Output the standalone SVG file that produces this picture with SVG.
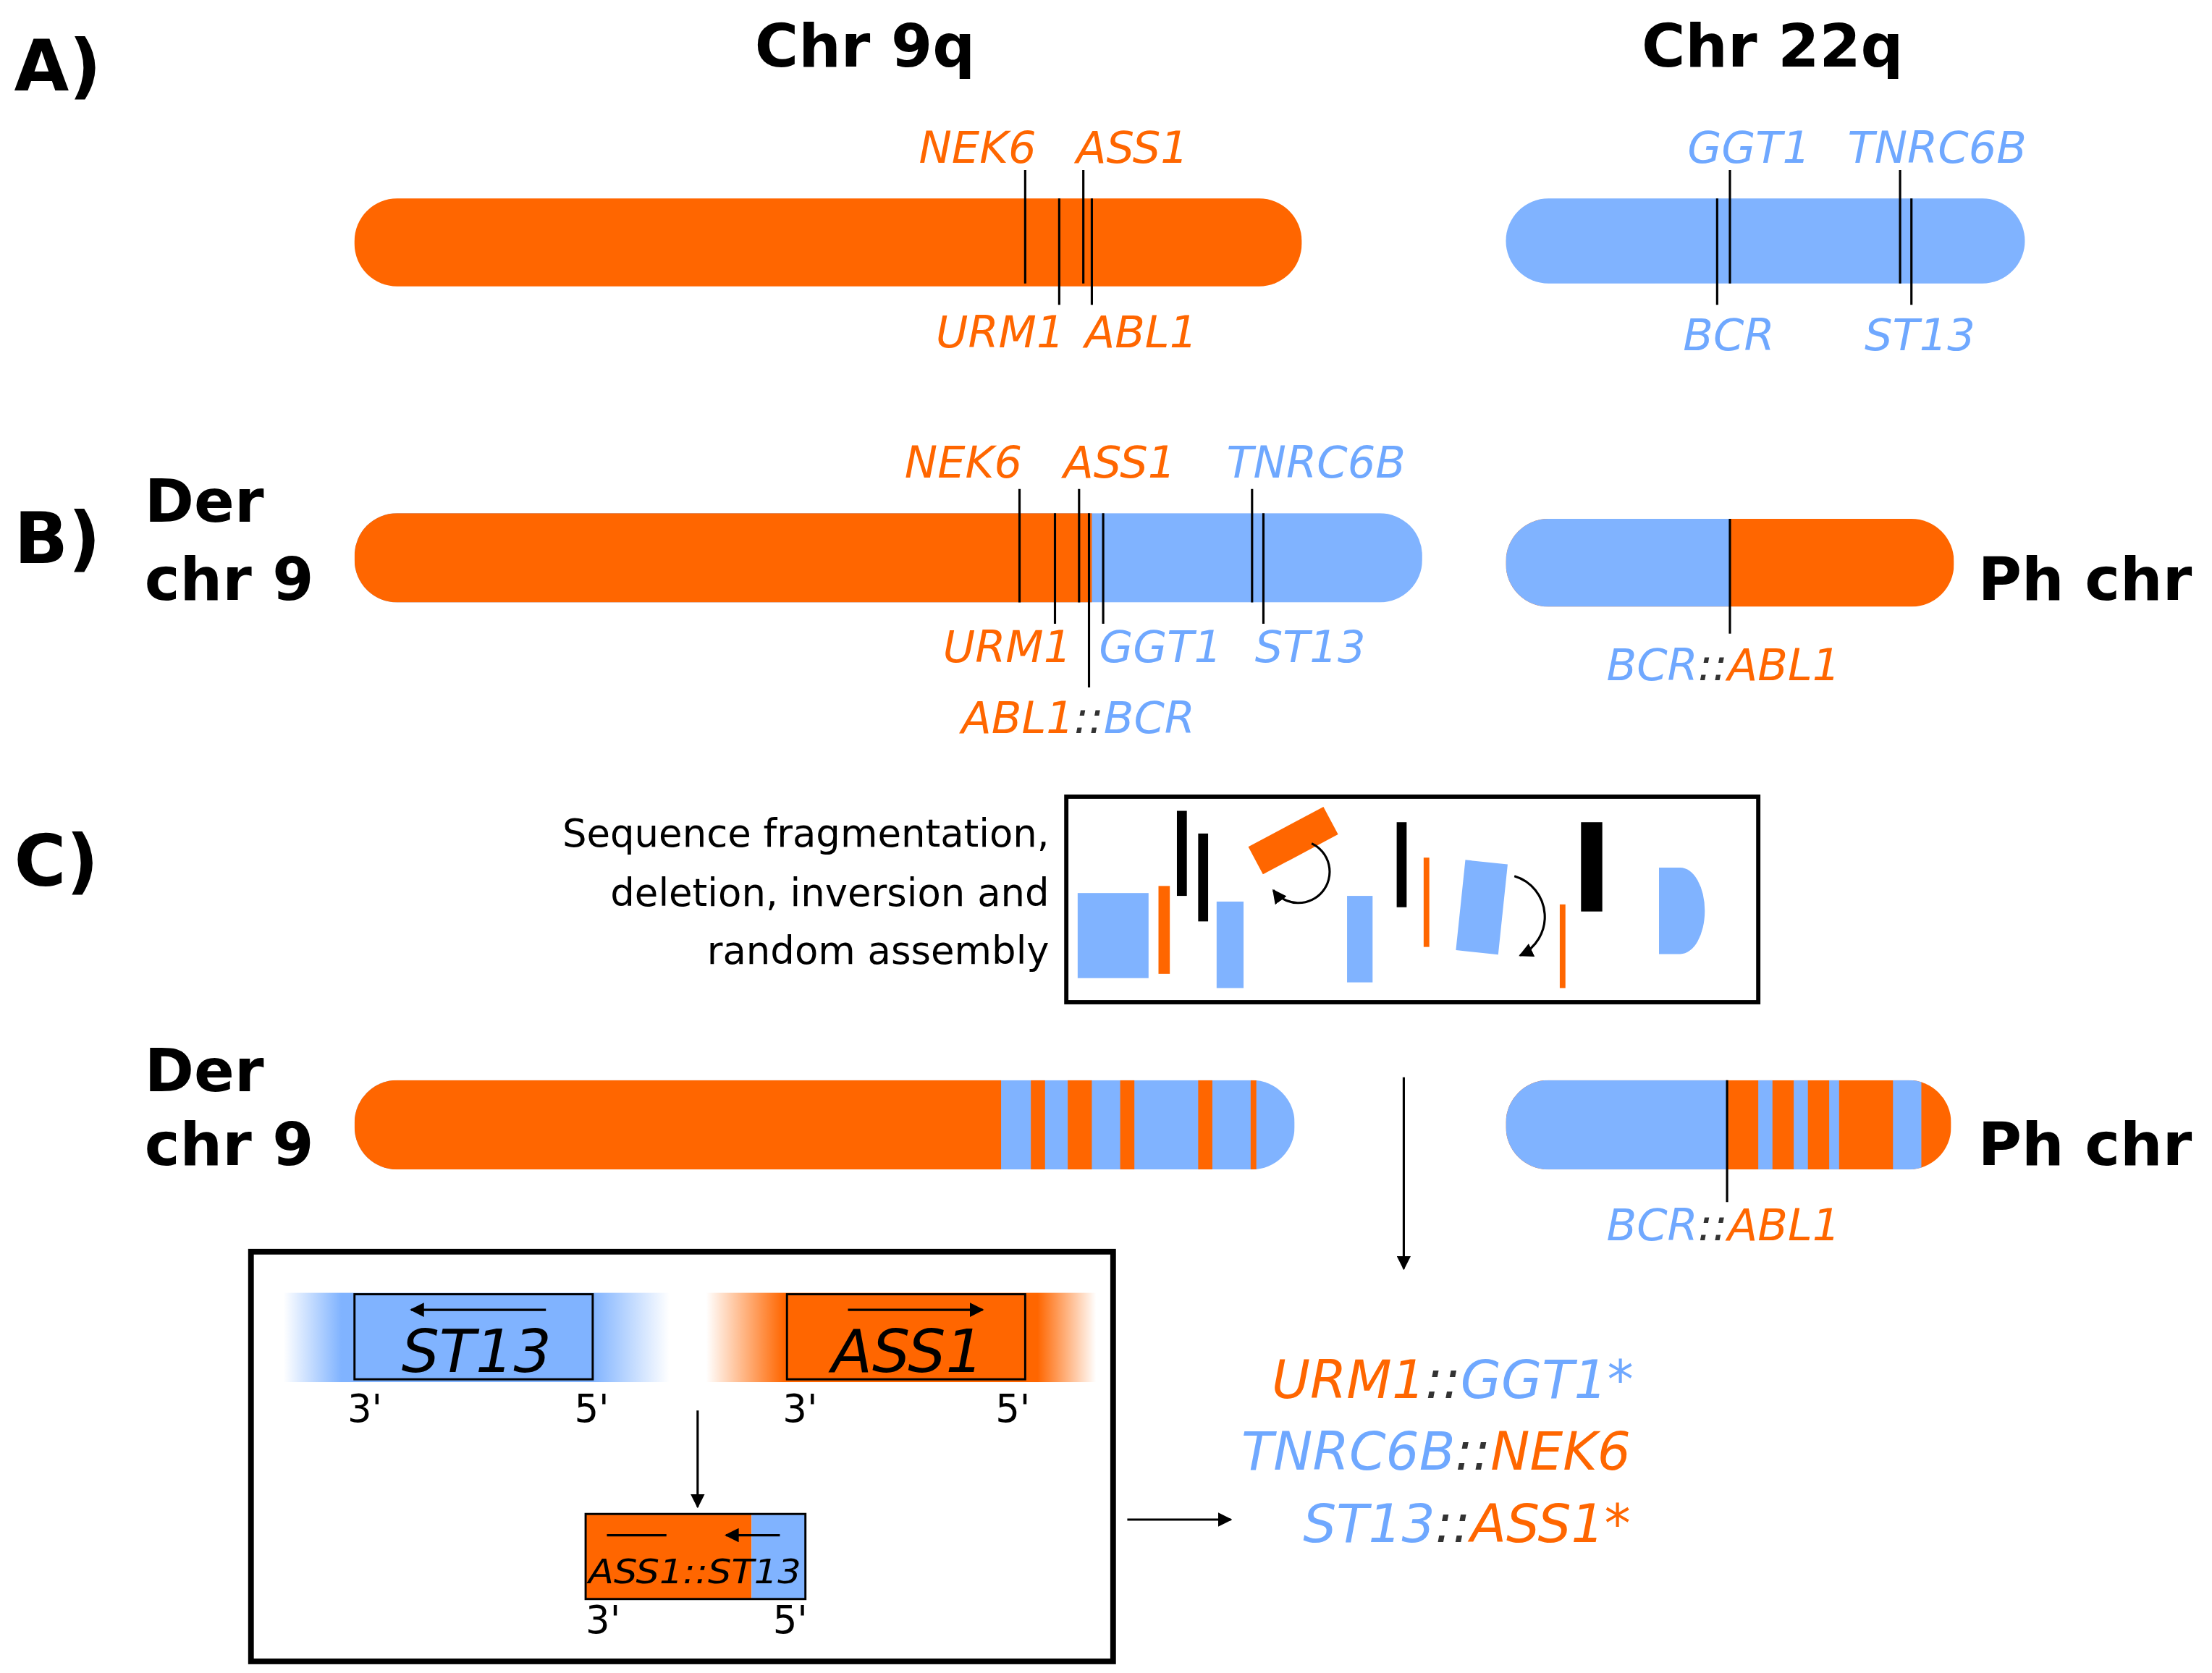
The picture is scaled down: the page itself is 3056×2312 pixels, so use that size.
<svg xmlns="http://www.w3.org/2000/svg" width="3056" height="2312" viewBox="0 0 3056 2312">
<defs>
<style>
.o{fill:#FF6600}.b{fill:#80B3FF}.k{fill:#000}
.lo{fill:#FF6600}.lb{fill:#6FA8FF}
.gl{font-family:"DejaVu Sans",sans-serif;font-style:italic;font-size:31px}
.hd{font-family:"DejaVu Sans",sans-serif;font-weight:bold;font-size:42px;fill:#000}
.pl{font-family:"DejaVu Sans",sans-serif;font-weight:bold;font-size:50px;fill:#000}
.ln{stroke:#000;stroke-width:1.6;fill:none}
.sm{font-family:"DejaVu Sans",sans-serif;font-size:27px;fill:#000}
</style>
<linearGradient id="gb" x1="0" x2="1" y1="0" y2="0">
<stop offset="0" stop-color="#80B3FF" stop-opacity="0"/><stop offset="0.15" stop-color="#80B3FF"/><stop offset="0.8" stop-color="#80B3FF"/><stop offset="1" stop-color="#80B3FF" stop-opacity="0"/></linearGradient>
<linearGradient id="go" x1="0" x2="1" y1="0" y2="0">
<stop offset="0" stop-color="#FF6600" stop-opacity="0"/><stop offset="0.2" stop-color="#FF6600"/><stop offset="0.85" stop-color="#FF6600"/><stop offset="1" stop-color="#FF6600" stop-opacity="0"/></linearGradient>
<marker id="ah" markerWidth="10" markerHeight="10" refX="9" refY="5" orient="auto" markerUnits="userSpaceOnUse" viewBox="0 0 10 10"><path d="M0,0L10,5L0,10z" fill="#000"/></marker>
<clipPath id="cA"><rect x="250" y="140" width="668" height="62" rx="30"/></clipPath>
<clipPath id="cB"><rect x="250" y="362" width="753" height="63" rx="30"/></clipPath>
<clipPath id="cP"><rect x="1062" y="366" width="316" height="62" rx="30"/></clipPath>
<clipPath id="cC"><rect x="250" y="762" width="663" height="63" rx="30"/></clipPath>
<clipPath id="cPC"><rect x="1062" y="762" width="314" height="63" rx="30"/></clipPath>
</defs>
<rect width="3056" height="2312" fill="#fff"/>
<g transform="scale(1.959)">
<text class="pl" x="10" y="64">A)</text>
<text class="hd" x="610" y="47" text-anchor="middle">Chr 9q</text>
<text class="hd" x="1250" y="47" text-anchor="middle">Chr 22q</text>
<g id="chr9q">
<rect class="o" x="250" y="140" width="668" height="62" rx="30"/>
<path class="ln" d="M723,120V200M747,140V215M764,120V200M770,140V215"/>
<text class="gl lo" x="648" y="115">NEK6</text><text class="gl lo" x="759" y="115">ASS1</text>
<text class="gl lo" x="660" y="245">URM1</text><text class="gl lo" x="765" y="245">ABL1</text>
</g>
<g id="chr22q">
<rect class="b" x="1062" y="140" width="366" height="60" rx="30"/>
<path class="ln" d="M1220,120V200M1211,140V215M1340,120V200M1348,140V215"/>
<text class="gl lb" x="1190" y="115">GGT1</text><text class="gl lb" x="1303" y="115">TNRC6B</text>
<text class="gl lb" x="1187" y="247">BCR</text><text class="gl lb" x="1315" y="247">ST13</text>
</g>
<text class="pl" x="10" y="397">B)</text>
<text class="hd" x="102" y="368">Der</text><text class="hd" x="102" y="423">chr 9</text>
<g id="derB">
<g clip-path="url(#cB)"><rect class="b" x="250" y="362" width="753" height="63"/><rect class="o" x="250" y="362" width="520" height="63"/></g>
<path class="ln" d="M719,345V425M744,362V440M761,345V425M768,362V485M778,362V440M883,345V425M891,362V440"/>
<text class="gl lo" x="638" y="337">NEK6</text><text class="gl lo" x="750" y="337">ASS1</text><text class="gl lb" x="865" y="337">TNRC6B</text>
<text class="gl lo" x="665" y="467">URM1</text><text class="gl lb" x="775" y="467">GGT1</text><text class="gl lb" x="885" y="467">ST13</text>
<text class="gl" x="678" y="517"><tspan class="lo">ABL1</tspan><tspan fill="#333">::</tspan><tspan class="lb">BCR</tspan></text>
</g>
<g id="phB">
<g clip-path="url(#cP)"><rect class="o" x="1062" y="366" width="316" height="62"/><rect class="b" x="1062" y="366" width="158" height="62"/></g>
<path class="ln" d="M1220,366V447"/>
<text class="gl" x="1133" y="480"><tspan class="lb">BCR</tspan><tspan fill="#333">::</tspan><tspan class="lo">ABL1</tspan></text>
<text class="hd" x="1395" y="423">Ph chr</text>
</g>
<text class="pl" x="10" y="625">C)</text>
<g id="frag">
<rect x="752" y="562" width="488" height="145" fill="none" stroke="#000" stroke-width="3"/>
<text class="sm" text-anchor="end" x="740" y="597">Sequence fragmentation,</text>
<text class="sm" text-anchor="end" x="740" y="639">deletion, inversion and</text>
<text class="sm" text-anchor="end" x="740" y="680">random assembly</text>
<rect class="b" x="760" y="630" width="50" height="60"/>
<rect class="o" x="817" y="625" width="8" height="62"/>
<rect class="k" x="830" y="572" width="7" height="60"/>
<rect class="k" x="845" y="588" width="7" height="62"/>
<rect class="b" x="858" y="636" width="19" height="61"/>
<rect class="o" x="882" y="582" width="60" height="22" transform="rotate(-28 912 593)"/>
<path class="ln" d="M925,595A22,22 0 1 1 898,628" stroke-width="2" marker-end="url(#ah)"/>
<rect class="b" x="950" y="632" width="18" height="61"/>
<rect class="k" x="985" y="580" width="7" height="60"/>
<rect class="o" x="1004" y="605" width="4" height="63"/>
<rect class="b" x="1030" y="608" width="30" height="64" transform="rotate(6 1045 640)"/>
<path class="ln" d="M1068,618A30,30 0 0 1 1072,674" stroke-width="2" marker-end="url(#ah)"/>
<rect class="o" x="1100" y="638" width="4" height="59"/>
<rect class="k" x="1115" y="580" width="15" height="63"/>
<path class="b" d="M1170,612H1185A17,30 0 0 1 1185,673H1170Z"/>
</g>
<text class="hd" x="102" y="770">Der</text><text class="hd" x="102" y="822">chr 9</text>
<g id="derC">
<g clip-path="url(#cC)"><rect class="b" x="250" y="762" width="663" height="63"/><rect class="o" x="250" y="762" width="456" height="63"/>
<rect class="o" x="727" y="762" width="10" height="63"/><rect class="o" x="753" y="762" width="17" height="63"/><rect class="o" x="790" y="762" width="10" height="63"/><rect class="o" x="845" y="762" width="10" height="63"/><rect class="o" x="882" y="762" width="4" height="63"/></g>
</g>
<g id="phC">
<g clip-path="url(#cPC)"><rect class="o" x="1062" y="762" width="314" height="63"/><rect class="b" x="1062" y="762" width="156" height="63"/>
<rect class="b" x="1240" y="762" width="10" height="63"/><rect class="b" x="1265" y="762" width="10" height="63"/><rect class="b" x="1290" y="762" width="7" height="63"/><rect class="b" x="1335" y="762" width="20" height="63"/></g>
<path class="ln" d="M1218,762V848"/>
<text class="gl" x="1133" y="875"><tspan class="lb">BCR</tspan><tspan fill="#333">::</tspan><tspan class="lo">ABL1</tspan></text>
<text class="hd" x="1395" y="822">Ph chr</text>
</g>
<g id="fusion">
<rect x="177" y="883" width="608" height="289" fill="none" stroke="#000" stroke-width="4"/>
<rect x="200" y="912" width="272" height="63" fill="url(#gb)"/>
<rect x="250" y="913" width="168" height="60" class="b" stroke="#000" stroke-width="1.5"/>
<rect x="498" y="912" width="275" height="63" fill="url(#go)"/>
<rect x="555" y="913" width="168" height="60" class="o" stroke="#000" stroke-width="1.5"/>
<path class="ln" d="M385,924H290" stroke-width="2" marker-end="url(#ah)"/>
<path class="ln" d="M598,924H693" stroke-width="2" marker-end="url(#ah)"/>
<text x="336" y="968" text-anchor="middle" font-family="DejaVu Sans,sans-serif" font-style="italic" font-size="42" fill="#000">ST13</text>
<text x="640" y="968" text-anchor="middle" font-family="DejaVu Sans,sans-serif" font-style="italic" font-size="42" fill="#000">ASS1</text>
<text class="sm" x="245" y="1003">3'</text><text class="sm" x="405" y="1003">5'</text>
<text class="sm" x="552" y="1003">3'</text><text class="sm" x="702" y="1003">5'</text>
<path class="ln" d="M492,995V1063" stroke-width="2" marker-end="url(#ah)"/>
<rect x="413" y="1068" width="117" height="60" class="o"/><rect x="530" y="1068" width="38" height="60" class="b"/>
<rect x="413" y="1068" width="155" height="60" fill="none" stroke="#000" stroke-width="1.5"/>
<path class="ln" d="M470,1083H428M550,1083H512" stroke-width="2" marker-end="url(#ah)"/>
<text x="490" y="1117" text-anchor="middle" font-family="DejaVu Sans,sans-serif" font-style="italic" font-size="24" fill="#000" textLength="150" lengthAdjust="spacingAndGlyphs">ASS1::ST13</text>
<text class="sm" x="413" y="1152">3'</text><text class="sm" x="545" y="1152">5'</text>
</g>
<g id="connectors">
<path class="ln" d="M990,760V895" stroke-width="2.5" marker-end="url(#ah)"/>
<path class="ln" d="M795,1072H868" stroke-width="2.5" marker-end="url(#ah)"/>
</g>
<g id="results" font-family="DejaVu Sans,sans-serif" font-style="italic" font-size="37" text-anchor="end">
<text x="1152" y="986"><tspan class="lo">URM1</tspan><tspan fill="#333">::</tspan><tspan class="lb">GGT1*</tspan></text>
<text x="1150" y="1037"><tspan class="lb">TNRC6B</tspan><tspan fill="#333">::</tspan><tspan class="lo">NEK6</tspan></text>
<text x="1150" y="1088"><tspan class="lb">ST13</tspan><tspan fill="#333">::</tspan><tspan class="lo">ASS1*</tspan></text>
</g>
</g>
</svg>
